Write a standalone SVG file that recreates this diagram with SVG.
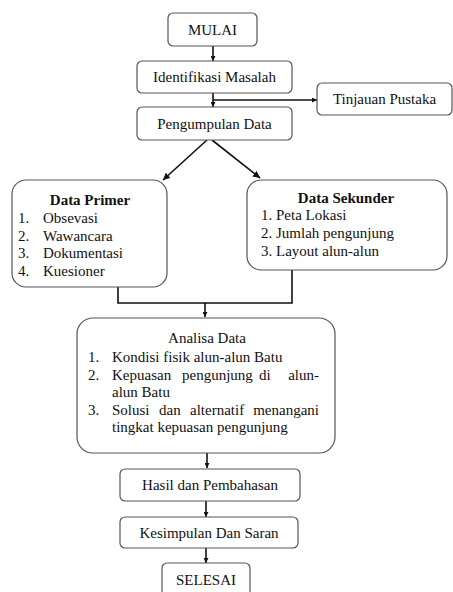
<svg xmlns="http://www.w3.org/2000/svg" width="453" height="592" viewBox="0 0 453 592">
<style>
.box{fill:#fff;stroke:#555;stroke-width:1.2}
.t{font-size:15px;fill:#111}
.c{text-anchor:middle}
.b{font-weight:bold}
.ln{fill:none;stroke:#111;stroke-width:1.6}
</style>
<defs>
<marker id="ah" viewBox="0 0 10 10" refX="10" refY="5" markerWidth="5" markerHeight="5" orient="auto" markerUnits="userSpaceOnUse"><path d="M0,0 L10,5 L0,10 z" fill="#111"/></marker>
<marker id="ahb" viewBox="0 0 10 10" refX="10" refY="5" markerWidth="7" markerHeight="7" orient="auto" markerUnits="userSpaceOnUse"><path d="M0,0 L10,5 L0,10 z" fill="#111"/></marker>
</defs>
<rect width="453" height="592" fill="#fff"/>
<g id="connectors">
<path class="ln" d="M213,46 V61" marker-end="url(#ah)"/>
<path class="ln" d="M213,93 V107" marker-end="url(#ah)"/>
<path class="ln" d="M213,100 H317" marker-end="url(#ah)"/>
<path class="ln" d="M207,140 L163,180" marker-end="url(#ahb)"/>
<path class="ln" d="M212,140 L260,178" marker-end="url(#ahb)"/>
<path class="ln" d="M118,287 V303 H292 V270"/>
<path class="ln" d="M205,303 V317" marker-end="url(#ah)"/>
<path class="ln" d="M207,453 V468" marker-end="url(#ah)"/>
<path class="ln" d="M206,501 V517" marker-end="url(#ah)"/>
<path class="ln" d="M206,548 V563" marker-end="url(#ah)"/>
</g>
<g font-family="Liberation Serif, DejaVu Serif, serif">
<g id="mulai"><rect class="box" x="168" y="13" width="89" height="33" rx="5"/><text class="t c" x="212.5" y="35">MULAI</text></g>
<g id="identifikasi"><rect class="box" x="137" y="61" width="155" height="32" rx="5"/><text class="t c" x="214.5" y="82">Identifikasi Masalah</text></g>
<g id="tinjauan"><rect class="box" x="317" y="83" width="135" height="32" rx="5"/><text class="t c" x="384.5" y="104">Tinjauan Pustaka</text></g>
<g id="pengumpulan"><rect class="box" x="137" y="107" width="155" height="33" rx="5"/><text class="t c" x="214.5" y="129">Pengumpulan Data</text></g>
<g id="primer"><rect class="box" x="12" y="180" width="155" height="107" rx="14"/>
<text class="t c b" x="90" y="205">Data Primer</text>
<text class="t" x="18" y="223">1.</text><text class="t" x="43" y="223">Obsevasi</text>
<text class="t" x="18" y="241">2.</text><text class="t" x="43" y="241">Wawancara</text>
<text class="t" x="18" y="258">3.</text><text class="t" x="43" y="258">Dokumentasi</text>
<text class="t" x="18" y="276">4.</text><text class="t" x="43" y="276">Kuesioner</text>
</g>
<g id="sekunder"><rect class="box" x="247" y="180" width="200" height="90" rx="14"/>
<text class="t c b" x="346" y="203">Data Sekunder</text>
<text class="t" x="261" y="220">1. Peta Lokasi</text>
<text class="t" x="261" y="238">2. Jumlah pengunjung</text>
<text class="t" x="261" y="256">3. Layout alun-alun</text>
</g>
<g id="analisa"><rect class="box" x="77" y="318" width="258" height="135" rx="16"/>
<text class="t c" x="207" y="343">Analisa Data</text>
<text class="t" x="88" y="362">1.</text><text class="t" x="112" y="362">Kondisi fisik alun-alun Batu</text>
<text class="t" x="88" y="380">2.</text><text class="t" x="112" y="380">Kepuasan</text><text class="t" x="182" y="380">pengunjung</text><text class="t" x="259" y="380">di</text><text class="t" x="319" y="380" text-anchor="end">alun-</text>
<text class="t" x="112" y="397">alun Batu</text>
<text class="t" x="88" y="415">3.</text><text class="t" x="112" y="415">Solusi</text><text class="t" x="159" y="415">dan</text><text class="t" x="190" y="415">alternatif</text><text class="t" x="319" y="415" text-anchor="end">menangani</text>
<text class="t" x="112" y="432">tingkat kepuasan pengunjung</text>
</g>
<g id="hasil"><rect class="box" x="120" y="469" width="180" height="32" rx="5"/><text class="t c" x="210" y="490">Hasil dan Pembahasan</text></g>
<g id="kesimpulan"><rect class="box" x="120" y="517" width="178" height="31" rx="5"/><text class="t c" x="209" y="538">Kesimpulan Dan Saran</text></g>
<g id="selesai"><rect class="box" x="162" y="563" width="88" height="40" rx="5"/><text class="t c" x="206" y="585">SELESAI</text></g>
</g>
</svg>
